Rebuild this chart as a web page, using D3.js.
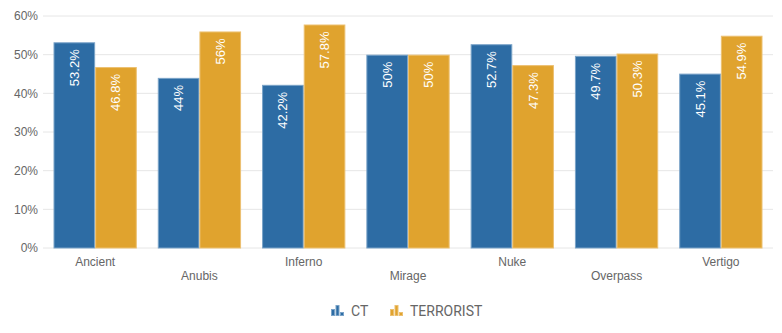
<!DOCTYPE html>
<html>
<head>
<meta charset="utf-8">
<script src="https://cdn.jsdelivr.net/npm/d3@7"></script>
<style>
  html, body { margin: 0; padding: 0; background: #fff; }
  svg { display: block; font-family: "Liberation Sans", Arial, sans-serif; }
</style>
</head>
<body>
<svg id="chart" width="782" height="333"></svg>
<script>
// Win rate per map by side
const maps = ["Ancient", "Anubis", "Inferno", "Mirage", "Nuke", "Overpass", "Vertigo"];
const ctValues = [53.2, 44, 42.2, 50, 52.7, 49.7, 45.1];
const tValues = [46.8, 56, 57.8, 50, 47.3, 50.3, 54.9];
const seriesNames = ["CT", "TERRORIST"];
const yTicks = [0, 10, 20, 30, 40, 50, 60];

const colors = { CT: "#2d6ca4", TERRORIST: "#e0a32e" };
const borders = { CT: "#7aa3c8", TERRORIST: "#ecc071" };

const svg = d3.select("#chart");
const margin = { left: 43, right: 9, top: 16, bottom: 85 };
const W = 782, H = 333;

const x0 = d3.scaleBand().domain(maps).range([margin.left, W - margin.right]).padding(0);
const y = d3.scaleLinear().domain([0, 60]).range([H - margin.bottom, margin.top]);

// gridlines
svg.append("g").selectAll("line").data(yTicks).join("line")
  .attr("x1", margin.left).attr("x2", W - margin.right)
  .attr("y1", d => y(d)).attr("y2", d => y(d))
  .attr("stroke", "#e6e6e6").attr("stroke-width", 1);

// y axis
const yAxis = d3.axisLeft(y).tickValues(yTicks).tickFormat(d => d + "%").tickSize(0).tickPadding(5);
const gy = svg.append("g").attr("transform", `translate(${margin.left},0)`).call(yAxis);
gy.select(".domain").remove();
gy.selectAll("text").attr("fill", "#666").attr("font-size", 12).attr("font-family", "Liberation Sans, Arial, sans-serif");

// x axis labels, alternating rows
svg.append("g").selectAll("text").data(maps).join("text")
  .attr("x", d => x0(d) + x0.bandwidth() / 2)
  .attr("y", (d, i) => i % 2 === 0 ? 266 : 280)
  .attr("text-anchor", "middle")
  .attr("fill", "#666").attr("font-size", 12)
  .text(d => d);

// bars
const bandPad = 10.5;
const inner = d3.scaleBand().domain(seriesNames).range([0, x0.bandwidth() - 2 * bandPad]);
const rows = maps.map((m, i) => ({ map: m, values: [
  { key: "CT", value: ctValues[i] },
  { key: "TERRORIST", value: tValues[i] }
]}));

const groups = svg.append("g").selectAll("g").data(rows).join("g")
  .attr("transform", d => `translate(${x0(d.map) + bandPad},0)`);

groups.selectAll("rect").data(d => d.values).join("rect")
  .attr("x", d => inner(d.key) + 0.5)
  .attr("width", inner.bandwidth() - 1)
  .attr("y", d => y(d.value) + 0.5)
  .attr("height", d => y(0) - y(d.value) - 0.5)
  .attr("fill", d => colors[d.key])
  .attr("stroke", d => borders[d.key])
  .attr("stroke-width", 1);

// value labels, rotated inside bar tops
groups.selectAll("text.val").data(d => d.values).join("text")
  .attr("class", "val")
  .attr("transform", d => `translate(${inner(d.key) + inner.bandwidth() / 2 + 4.5},${y(d.value) + 7}) rotate(-90)`)
  .attr("text-anchor", "end")
  .attr("fill", "#fff")
  .attr("font-size", 13)
  .text(d => d.value + "%");

// legend
const legend = svg.append("g");
const legendItems = [
  { key: "CT", x: 331 },
  { key: "TERRORIST", x: 390 }
];
const iconBars = [ { dx: 0, h: 7 }, { dx: 4.5, h: 11 }, { dx: 9, h: 4 } ];
legendItems.forEach(item => {
  const g = legend.append("g").attr("transform", `translate(${item.x},316)`);
  g.selectAll("rect").data(iconBars).join("rect")
    .attr("x", d => d.dx + 0.5).attr("y", d => -d.h + 0.5)
    .attr("width", 3).attr("height", d => d.h - 1)
    .attr("fill", colors[item.key])
    .attr("stroke", borders[item.key]).attr("stroke-width", 1);
  g.append("text").attr("x", 20).attr("y", 0)
    .attr("fill", "#666").attr("font-size", 14)
    .attr("font-family", "Roboto, sans-serif")
    .text(item.key);
});
</script>
</body>
</html>
